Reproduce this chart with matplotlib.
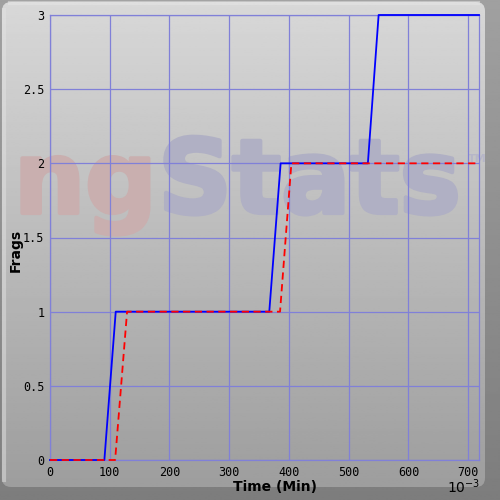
import numpy as np
import matplotlib
matplotlib.use("Agg")
import matplotlib.pyplot as plt
import matplotlib.patheffects as pe
from matplotlib.patches import FancyBboxPatch

# data (time in 10^-3 min, frags)
blue_t = [0, 91, 110, 367, 386, 532, 550, 718]
blue_f = [0, 0, 1, 1, 2, 2, 3, 3]
red_t = [0, 109, 129, 385, 404, 718]
red_f = [0, 0, 1, 1, 2, 2]
x_ticks = [0, 100, 200, 300, 400, 500, 600, 700]
y_ticks = [0, 0.5, 1, 1.5, 2, 2.5, 3]
y_labels = ["0", "0.5", "1", "1.5", "2", "2.5", "3"]

fig = plt.figure(figsize=(5, 5), dpi=100)

# background frame with bevel
bg = fig.add_axes([0, 0, 1, 1])
bg.set_xlim(0, 500)
bg.set_ylim(500, 0)
bg.axis("off")
shade = np.linspace(0, 1, 256).reshape(-1, 1)
bg.imshow(160 - 35 * shade, cmap="gray", vmin=0, vmax=255,
          extent=[0, 500, 500, 0], aspect="auto")
panel = FancyBboxPatch((2, 2), 483, 485, boxstyle="round,pad=0,rounding_size=9",
                       facecolor="none", edgecolor="none")
bg.add_patch(panel)
im = bg.imshow(216 - 60 * shade, cmap="gray", vmin=0, vmax=255,
               extent=[0, 500, 500, 0], aspect="auto")
im.set_clip_path(panel)
bg.plot([4, 4], [10, 480], color="#e2e2e2", lw=3, alpha=0.5)
bg.plot([10, 478], [3, 3], color="#e6e6e6", lw=3, alpha=0.5)

# watermark
red_wm = "#c9afaf"
blue_wm = "#b0b0c4"
t1 = bg.text(14, 213, "ng", fontsize=72, fontweight="bold", color=red_wm,
             family="DejaVu Sans")
t1.set_path_effects([pe.withStroke(linewidth=3, foreground=red_wm)])
t2 = bg.text(158, 213, "Stats", fontsize=74, fontweight="bold", color=blue_wm,
             family="DejaVu Sans")
t2.set_path_effects([pe.withStroke(linewidth=3, foreground=blue_wm)])
bg.text(468, 162, "TM", fontsize=8, fontweight="bold", color="#b6b6c8",
        family="DejaVu Sans")

ax = fig.add_axes([0.1, 0.08, 0.858, 0.89])
ax.patch.set_alpha(0)
ax.plot(blue_t, blue_f, color="#0000ff", lw=1.3, zorder=3, clip_on=False)
ax.plot(red_t, red_f, color="#ff0000", lw=1.3, ls=(0, (4, 2.5)), zorder=4,
        clip_on=False)
ax.set_xlim(0, 718)
ax.set_ylim(0, 3)
ax.set_xticks(x_ticks)
ax.set_yticks(y_ticks)
ax.set_yticklabels(y_labels)
ax.grid(True, color="#8080d8", lw=0.9)
for s in ax.spines.values():
    s.set_color("#8080d8")
    s.set_linewidth(0.9)
ax.tick_params(length=0, labelsize=8.5, pad=4)
for lbl in ax.get_xticklabels() + ax.get_yticklabels():
    lbl.set_family("DejaVu Sans Mono")
ax.set_xlabel("Time (Min)", fontsize=10, fontweight="bold")
ax.set_ylabel("Frags", fontsize=10, fontweight="bold")
ax.xaxis.set_label_coords(0.525, -0.045)
ax.yaxis.set_label_coords(-0.063, 0.47)
fig.text(0.928, 0.026, r"$10^{-3}$", fontsize=10, ha="center", va="center",
         family="DejaVu Sans")

fig.savefig("out.png", dpi=100)
